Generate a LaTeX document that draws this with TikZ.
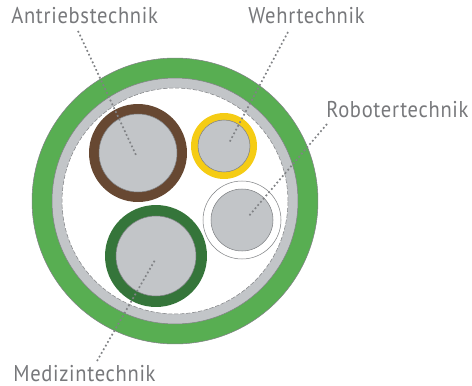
\documentclass[tikz,border=0pt]{standalone}
\usepackage{fontspec}
\setmainfont[FakeStretch=0.9,LetterSpace=3]{PT Sans}
\definecolor{mantelgreen}{HTML}{58AE52}
\definecolor{shieldgrey}{HTML}{C2C5C8}
\definecolor{edgegrey}{HTML}{808285}
\definecolor{labelgrey}{HTML}{77787B}
\definecolor{ringbrown}{HTML}{674832}
\definecolor{ringyellow}{HTML}{F5CC14}
\definecolor{ringgreen}{HTML}{35753A}
\tikzset{
  disc/.style={circle, inner sep=0pt, draw=edgegrey, line width=0.3pt},
  core/.style={disc, fill=shieldgrey},
  ring/.style={disc, draw=none},
  leader/.style={edgegrey, line width=0.95pt, dash pattern=on 1pt off 1.4pt},
  lbl/.style={inner sep=0pt, anchor=base west, text=labelgrey, font=\fontsize{13}{15}\selectfont}
}
\begin{document}
\begin{tikzpicture}[x=0.02cm, y=-0.02cm]
  \useasboundingbox (0, 0) rectangle (472, 385);
  % cable
  \node[disc, fill=mantelgreen, minimum size=5.72cm] (mantel) at (175, 201) {};
  \node[disc, fill=shieldgrey, minimum size=4.92cm] (shield) at (175, 201) {};
  \node[disc, fill=white, draw=edgegrey, dash pattern=on 2.4pt off 1pt, minimum size=4.52cm] (inner) at (175, 201) {};
  % conductors
  \node[ring, fill=ringbrown, minimum size=1.96cm] (brown) at (138, 153) {};
  \node[core, minimum size=1.56cm] (browncore) at (138, 153) {};
  \node[ring, fill=ringyellow, minimum size=1.32cm] (yellow) at (224, 146) {};
  \node[core, minimum size=1.04cm] (yellowcore) at (224, 146) {};
  \node[disc, fill=white, minimum size=1.56cm] (white) at (242, 220) {};
  \node[core, minimum size=1.24cm] (whitecore) at (242, 220) {};
  \node[ring, fill=ringgreen, minimum size=2.04cm] (green) at (156, 256) {};
  \node[core, minimum size=1.6cm] (greencore) at (156, 256) {};
  % labels
  \node[lbl] (antrieb) at (11, 24) {Antriebstechnik};
  \node[lbl] (wehr) at (248, 24) {Wehrtechnik};
  \node[lbl] (robot) at (326, 117) {Robotertechnik};
  \node[lbl] (medizin) at (13, 381) {Medizintechnik};
  % leaders
  \coordinate (antriebtop) at (78, 31);
  \coordinate (antriebend) at (136, 155);
  \coordinate (wehrtop) at (288, 32);
  \coordinate (wehrend) at (229, 143);
  \coordinate (robottop) at (327, 124);
  \coordinate (robotend) at (248, 217);
  \coordinate (medizintop) at (97, 361);
  \coordinate (medizinend) at (155, 260);
  \draw[leader] (antriebtop) -- (antriebend);
  \draw[leader] (wehrtop) -- (wehrend);
  \draw[leader] (robottop) -- (robotend);
  \draw[leader] (medizintop) -- (medizinend);
\end{tikzpicture}
\end{document}
